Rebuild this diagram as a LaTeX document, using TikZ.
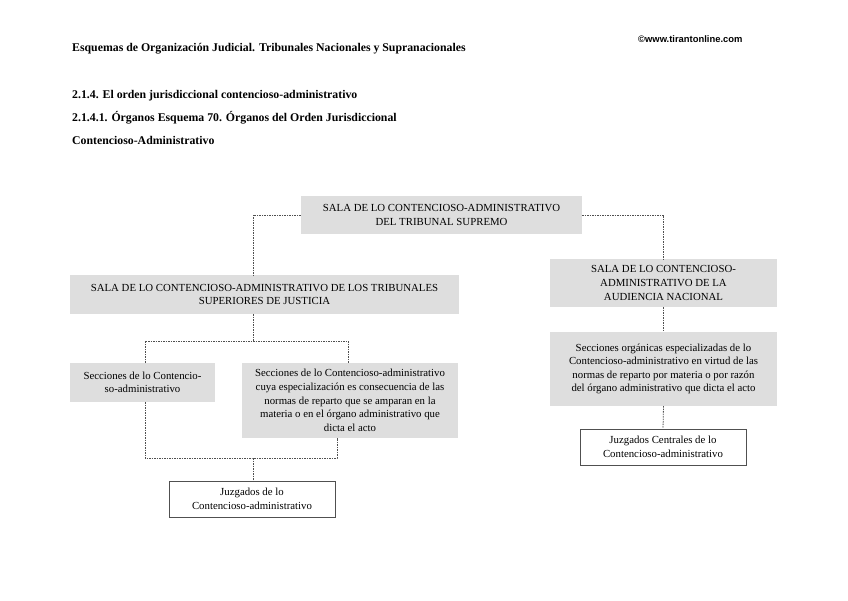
\documentclass[tikz,border=0pt]{standalone}
\usepackage{fontspec}
\setmainfont{Liberation Serif}
\newfontfamily\websans{Liberation Sans}
\usetikzlibrary{positioning}
\definecolor{boxgray}{HTML}{DEDEDE}
\definecolor{linegray}{HTML}{505050}

\begin{document}
\begin{tikzpicture}[x=1pt,y=-1pt,font=\fontsize{10.8}{13.6}\selectfont,
  sala/.style={fill=boxgray,draw=none,align=center,inner sep=2pt},
  juzg/.style={draw=linegray,line width=0.9pt,fill=white,align=center,minimum width=166pt,minimum height=36pt,inner sep=2pt},
  link/.style={draw=linegray,line width=0.8pt,dash pattern=on 1.5pt off 1pt},
  head/.style={anchor=base west,inner sep=0pt,font=\fontsize{11.8}{13}\selectfont\bfseries}]
  \useasboundingbox (0,0) rectangle (848,601);
  % cabecera
  \node[head] (tit) at (72,52) {Esquemas de Organización Judicial. Tribunales Nacionales y Supranacionales};
  \node[anchor=west,inner sep=0pt,font=\websans\bfseries\fontsize{9.4}{10}\selectfont] (web) at (638,39) {©www.tirantonline.com};
  \node[head] (sec1) at (72,99) {2.1.4. El orden jurisdiccional contencioso-administrativo};
  \node[head] (sec2) at (72,122) {2.1.4.1. Órganos Esquema 70. Órganos del Orden Jurisdiccional};
  \node[head] (sec3) at (72,145) {Contencioso-Administrativo};
  % salas
  \node[sala,minimum width=281pt,minimum height=38pt] (sup) at (441.5,215) {SALA DE LO CONTENCIOSO-ADMINISTRATIVO\\DEL TRIBUNAL SUPREMO};
  \node[sala,minimum width=389pt,minimum height=39pt] (tsj) at (264.5,294.5) {SALA DE LO CONTENCIOSO-ADMINISTRATIVO DE LOS TRIBUNALES\\SUPERIORES DE JUSTICIA};
  \node[sala,minimum width=227pt,minimum height=48pt] (an) at (663.5,283) {SALA DE LO CONTENCIOSO-\\ADMINISTRATIVO DE LA\\AUDIENCIA NACIONAL};
  % secciones
  \node[sala,minimum width=227pt,minimum height=74pt] (org) at (663.5,369) {Secciones orgánicas especializadas de lo\\Contencioso-administrativo en virtud de las\\normas de reparto por materia o por razón\\del órgano administrativo que dicta el acto};
  \node[sala,minimum width=145pt,minimum height=39pt] (secl) at (142.5,382.5) {Secciones de lo Contencio-\\so-administrativo};
  \node[sala,minimum width=216pt,minimum height=75pt] (secr) at (350,400.5) {Secciones de lo Contencioso-administrativo\\cuya especialización es consecuencia de las\\normas de reparto que se amparan en la\\materia o en el órgano administrativo que\\dicta el acto};
  % juzgados
  \node[juzg] (juz) at (252,499) {Juzgados de lo\\Contencioso-administrativo};
  \node[juzg] (juzc) at (663,447) {Juzgados Centrales de lo\\Contencioso-administrativo};
  % conexiones
  \coordinate (up) at (253,341);
  \coordinate (low) at (253,458);
  \draw[link] (sup.west) -| (tsj.north -| up);
  \draw[link] (sup.east) -| (an.north);
  \draw[link] (tsj.south -| up) -- (up);
  \draw[link] (secl.north -| 145,0) |- (up) -| (secr.north -| 348,0);
  \draw[link] (secl.south -| 145,0) |- (low) -| (secr.south -| 337,0);
  \draw[link] (low) -- (juz.north -| low);
  \draw[link] (an.south) -- (org.north);
  \draw[link] (org.south) -- (juzc.north);
\end{tikzpicture}
\end{document}
